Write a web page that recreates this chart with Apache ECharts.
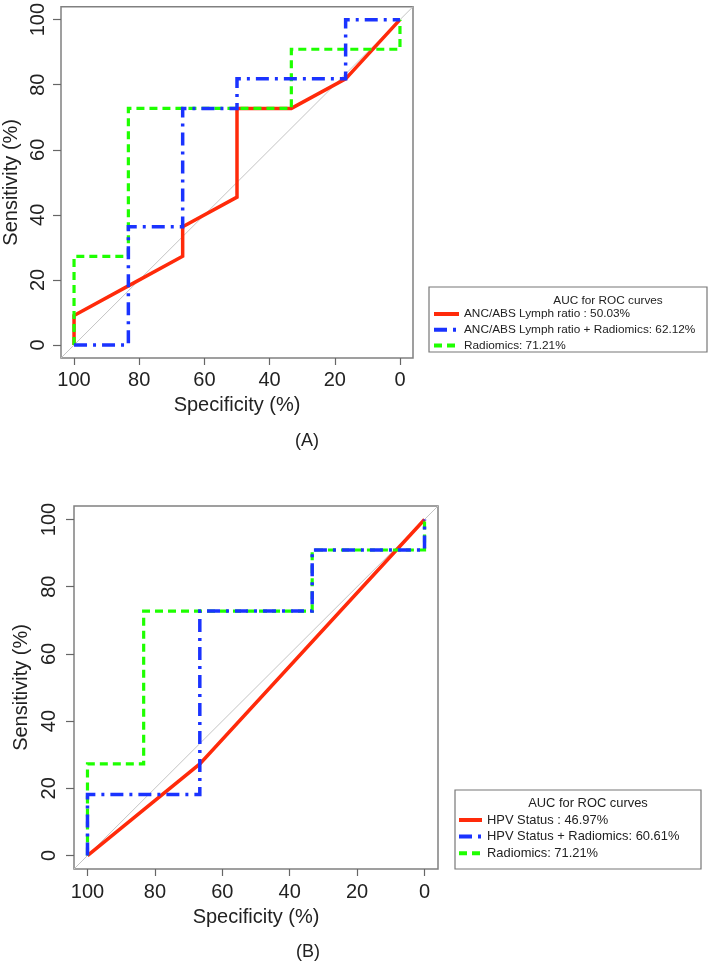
<!DOCTYPE html>
<html>
<head>
<meta charset="utf-8">
<script src="https://cdn.jsdelivr.net/npm/echarts@6/dist/echarts.min.js"></script>
<style>
html,body{margin:0;padding:0;background:#fff;}
#chart{width:709px;height:965px;}
</style>
</head>
<body>
<div id="chart"></div>
<script>
// ---- Data ----
const tickValues = [0, 20, 40, 60, 80, 100];

// Panel A
const namesA = ['ANC/ABS Lymph ratio : 50.03%', 'ANC/ABS Lymph ratio + Radiomics: 62.12%', 'Radiomics: 71.21%'];
const specA_red   = [100, 100, 83.33, 66.67, 66.67, 50, 50, 33.33, 16.67, 0];
const sensA_red   = [0, 9.09, 18.18, 27.27, 36.36, 45.45, 72.73, 72.73, 81.82, 100];
const specA_blue  = [100, 83.33, 83.33, 66.67, 66.67, 50, 50, 16.67, 16.67, 0];
const sensA_blue  = [0, 0, 36.36, 36.36, 72.73, 72.73, 81.82, 81.82, 100, 100];
const specA_green = [100, 100, 83.33, 83.33, 33.33, 33.33, 0, 0];
const sensA_green = [0, 27.27, 27.27, 72.73, 72.73, 90.91, 90.91, 100];

// Panel B
const namesB = ['HPV Status : 46.97%', 'HPV Status + Radiomics: 60.61%', 'Radiomics: 71.21%'];
const specB_red   = [100, 66.67, 0];
const sensB_red   = [0, 27.27, 100];
const specB_blue  = [100, 100, 66.67, 66.67, 33.33, 33.33, 0, 0];
const sensB_blue  = [0, 18.18, 18.18, 72.73, 72.73, 90.91, 90.91, 100];
const specB_green = [100, 100, 83.33, 83.33, 33.33, 33.33, 0, 0];
const sensB_green = [0, 27.27, 27.27, 72.73, 72.73, 90.91, 90.91, 100];

// chance diagonal (spans the full plotting region)
const diagSpec = [104, -4];
const diagSens = [-4, 104];

const zip = (a, b) => a.map((v, i) => [v, b[i]]);

// ---- Styles ----
const FONT = 'Liberation Sans, Arial, sans-serif';
const RED = '#ff2a0a', BLUE = '#1a33ff', GREEN = '#1eff00';
const BOX = '#808080';

function xAx(gi, margin, gap) {
  return {
    gridIndex: gi, type: 'value', min: -4, max: 104, inverse: true, position: 'bottom',
    axisLine: { show: false, onZero: false }, splitLine: { show: false },
    axisTick: { show: true, inside: false, length: 7, customValues: tickValues, lineStyle: { color: '#666', width: 1.2 } },
    axisLabel: { customValues: tickValues, fontSize: 20, color: '#222', fontFamily: FONT, margin: margin },
    name: 'Specificity (%)', nameLocation: 'middle', nameGap: gap,
    nameTextStyle: { fontSize: 20, color: '#222', fontFamily: FONT }
  };
}
function yAx(gi, margin, gap) {
  return {
    gridIndex: gi, type: 'value', min: -4, max: 104, position: 'left',
    axisLine: { show: false, onZero: false }, splitLine: { show: false },
    axisTick: { show: true, inside: false, length: 8, customValues: tickValues, lineStyle: { color: '#666', width: 1.2 } },
    axisLabel: { customValues: tickValues, fontSize: 20, color: '#222', fontFamily: FONT, rotate: 90, margin: margin },
    name: 'Sensitivity (%)', nameLocation: 'middle', nameGap: gap,
    nameTextStyle: { fontSize: 20, color: '#222', fontFamily: FONT }
  };
}
function ln(name, gi, data, color, type, width, z) {
  return {
    name: name, type: 'line', xAxisIndex: gi, yAxisIndex: gi, data: data,
    symbol: 'none', animation: false, z: z,
    lineStyle: { color: color, width: width, type: type, cap: 'butt', join: 'miter' },
    itemStyle: { color: color }
  };
}
function diag(gi) {
  return {
    type: 'line', xAxisIndex: gi, yAxisIndex: gi, data: zip(diagSpec, diagSens),
    symbol: 'none', silent: true, animation: false, z: 1,
    lineStyle: { color: '#c4c4c4', width: 1 }
  };
}

const chart = echarts.init(document.getElementById('chart'), null, { renderer: 'canvas' });
chart.setOption({
  backgroundColor: '#fff',
  animation: false,
  grid: [
    { left: 60, top: 5, width: 353, height: 353, show: true, borderColor: BOX, borderWidth: 1.5, backgroundColor: 'transparent' },
    { left: 74, top: 506, width: 364, height: 363, show: true, borderColor: BOX, borderWidth: 1.5, backgroundColor: 'transparent' }
  ],
  xAxis: [xAx(0, 12, 37), xAx(1, 13, 38)],
  yAxis: [yAx(0, 13, 40), yAx(1, 15, 41)],
  legend: [
    { data: namesA, orient: 'vertical', left: 432, top: 308, itemWidth: 25, itemHeight: 10, itemGap: 3.7,
      padding: 0, selectedMode: false, itemStyle: { opacity: 0 }, lineStyle: { width: 4 },
      textStyle: { fontSize: 11.8, color: '#222', fontFamily: FONT } },
    { data: namesB, orient: 'vertical', left: 457, top: 813.5, itemWidth: 23, itemHeight: 10, itemGap: 3.6,
      padding: 0, selectedMode: false, itemStyle: { opacity: 0 }, lineStyle: { width: 4 },
      textStyle: { fontSize: 12.9, color: '#222', fontFamily: FONT } }
  ],
  graphic: [
    { type: 'rect', shape: { x: 429, y: 287, width: 278, height: 65 }, style: { fill: 'none', stroke: '#777', lineWidth: 1.2 }, silent: true },
    { type: 'text', x: 608, y: 301, style: { text: 'AUC for ROC curves', fontSize: 11.8, fill: '#222', fontFamily: FONT, textAlign: 'center', textVerticalAlign: 'middle' } },
    { type: 'rect', shape: { x: 455, y: 790, width: 246, height: 79 }, style: { fill: 'none', stroke: '#777', lineWidth: 1.2 }, silent: true },
    { type: 'text', x: 588, y: 803, style: { text: 'AUC for ROC curves', fontSize: 12.9, fill: '#222', fontFamily: FONT, textAlign: 'center', textVerticalAlign: 'middle' } },
    { type: 'text', x: 307, y: 441, style: { text: '(A)', fontSize: 18, fill: '#222', fontFamily: FONT, textAlign: 'center', textVerticalAlign: 'middle' } },
    { type: 'text', x: 308, y: 952, style: { text: '(B)', fontSize: 18, fill: '#222', fontFamily: FONT, textAlign: 'center', textVerticalAlign: 'middle' } }
  ],
  series: [
    diag(0),
    ln(namesA[0], 0, zip(specA_red, sensA_red), RED, 'solid', 3.5, 2),
    ln(namesA[2], 0, zip(specA_green, sensA_green), GREEN, [8, 5], 3.2, 3),
    ln(namesA[1], 0, zip(specA_blue, sensA_blue), BLUE, [13, 6, 3, 6], 3.5, 4),
    diag(1),
    ln(namesB[0], 1, zip(specB_red, sensB_red), RED, 'solid', 3.5, 2),
    ln(namesB[2], 1, zip(specB_green, sensB_green), GREEN, [8, 5], 3.2, 3),
    ln(namesB[1], 1, zip(specB_blue, sensB_blue), BLUE, [13, 6, 3, 6], 3.5, 4)
  ]
});
</script>
</body>
</html>
